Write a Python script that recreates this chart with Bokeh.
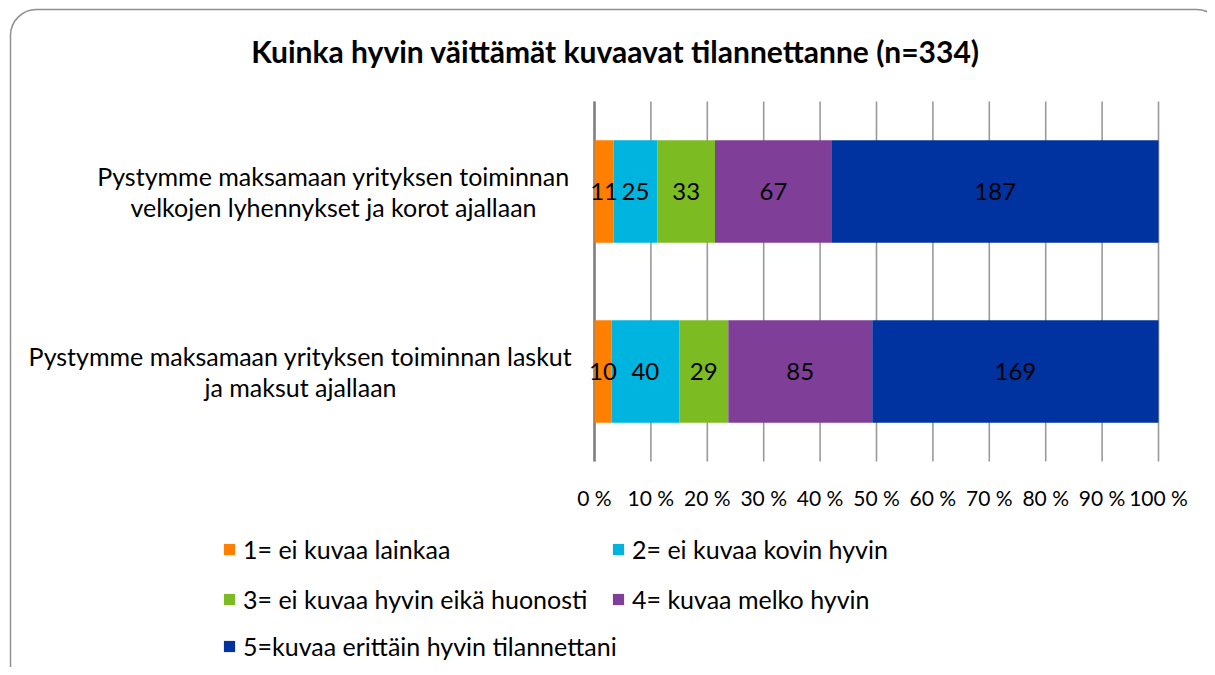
from bokeh.plotting import figure
from bokeh.models import Range1d, Legend, LegendItem
from bokeh.embed import file_html
from bokeh.resources import INLINE
from bokeh.core.properties import value

# ---------------- data ----------------
chart_title = "Kuinka hyvin väittämät kuvaavat tilannettanne (n=334)"
statement_lines = [
    ["Pystymme maksamaan yrityksen toiminnan", "velkojen lyhennykset ja korot ajallaan"],
    ["Pystymme maksamaan yrityksen toiminnan laskut", "ja maksut ajallaan"],
]
series_names = [
    "1= ei kuvaa lainkaa",
    "2= ei kuvaa kovin hyvin",
    "3= ei kuvaa hyvin eikä huonosti",
    "4= kuvaa melko hyvin",
    "5=kuvaa erittäin hyvin tilannettani",
]
s1 = [11, 10]
s2 = [25, 40]
s3 = [33, 29]
s4 = [67, 85]
s5 = [187, 169]
tick_values = [0, 10, 20, 30, 40, 50, 60, 70, 80, 90, 100]
tick_labels = ["0 %", "10 %", "20 %", "30 %", "40 %", "50 %", "60 %", "70 %", "80 %", "90 %", "100 %"]

# ---------------- layout / style ----------------
colors = ["#FF8000", "#00B4E0", "#7CBC22", "#7F3F98", "#0033A0"]
FONT = "Lato"
W, H = 1207, 667
PX0, PX100 = 594, 1158          # pixel x of 0 % and 100 %
ROW1_Y, ROW_STEP = 191, 180      # pixel y of first row centre, row spacing
ppu_x = (PX100 - PX0) / 100.0

n = len(statement_lines)
row_y = [n - i - 0.5 for i in range(n)]
y_top = row_y[0] + ROW1_Y / ROW_STEP
y_bot = row_y[0] - (H - ROW1_Y) / ROW_STEP

p = figure(width=W, height=H, output_backend="svg", toolbar_location=None, title=None,
           x_range=Range1d(-PX0 / ppu_x, (W - PX0) / ppu_x),
           y_range=Range1d(y_bot, y_top),
           x_axis_location=None, y_axis_location=None,
           min_border=0, min_border_left=0, min_border_right=0,
           min_border_top=0, min_border_bottom=0)
p.extra_x_ranges = {"px": Range1d(0, W)}
p.extra_y_ranges = {"px": Range1d(H, 0)}
p.outline_line_color = None
p.grid.visible = False
p.background_fill_color = "white"
p.border_fill_color = "white"

# rounded chart border
p.quad(left=[10], right=[1222], top=[9], bottom=[690], x_range_name="px", y_range_name="px",
       fill_color=None, line_color="#8f8f8f", line_width=1.5, border_radius=26)

# grid lines
p.segment(x0=tick_values, x1=tick_values, y0=[0] * len(tick_values), y1=[n] * len(tick_values),
          line_color="#9a9a9a", line_width=1.6)
p.segment(x0=[0], x1=[0], y0=[0], y1=[n], line_color="#7f7f7f", line_width=2.5)

# stacked bars (percent of row total)
series = [s1, s2, s3, s4, s5]
keys = ["k1", "k2", "k3", "k4", "k5"]
totals = [sum(s[i] for s in series) for i in range(n)]
data = {"y": row_y}
for k, s in zip(keys, series):
    data[k] = [100.0 * v / t for v, t in zip(s, totals)]
renderers = p.hbar_stack(keys, y="y", height=0.57, color=colors, source=data, line_color=None)

# value labels
for i in range(n):
    left = 0.0
    for k, s in zip(keys, series):
        w = data[k][i]
        p.text(x=[left + w / 2], y=[row_y[i]], text=[str(s[i])], text_align="center",
               text_baseline="middle", text_font=value(FONT), text_font_size="24px",
               text_color="black")
        left += w

# x tick labels
p.text(x=tick_values, y=[0] * len(tick_values), text=tick_labels, y_offset=36,
       text_align="center", text_baseline="middle", text_font=value(FONT),
       text_font_size="21px", text_color="black")

# category labels (two centred lines, block left of the plot area)
cat_cx = [333, 300]
for i, lines in enumerate(statement_lines):
    for j, line in enumerate(lines):
        p.text(x=[cat_cx[i]], y=[row_y[i]], text=[line], x_range_name="px",
               y_offset=(j - (len(lines) - 1) / 2) * 31, text_align="center",
               text_baseline="middle", text_font=value(FONT), text_font_size="25px",
               text_color="black")

# title
p.text(x=[615], y=[50], text=[chart_title], x_range_name="px", y_range_name="px",
       text_align="center", text_baseline="middle", text_font=value(FONT),
       text_font_style="bold", text_font_size="30px", text_color="black")

# legend: individual items on a 2-column grid
leg_pos = [(222, 551), (611, 551), (222, 601), (611, 601), (222, 648)]
lh = 26
for name, r, (lx, ly) in zip(series_names, renderers, leg_pos):
    lg = Legend(items=[LegendItem(label=name, renderers=[r])],
                location=(lx, H - (ly + lh / 2)),
                glyph_width=14, glyph_height=14, label_standoff=7,
                label_text_font=FONT, label_text_font_size="25px", label_text_color="black",
                label_text_baseline="middle",
                border_line_color=None, background_fill_alpha=0, padding=0, margin=0,
                label_height=lh, inactive_fill_alpha=0)
    p.add_layout(lg)

open("out.html", "w").write(file_html(p, INLINE))
